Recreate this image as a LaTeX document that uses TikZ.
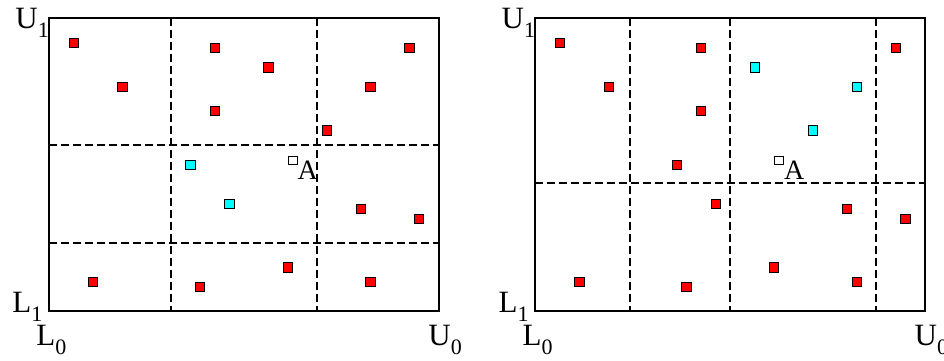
\documentclass[tikz,border=0pt]{standalone}
\usepackage{fontspec}
\setmainfont{Liberation Serif}
\usetikzlibrary{positioning}
\definecolor{ptred}{RGB}{255,0,0}
\definecolor{ptcyan}{RGB}{0,255,255}
\tikzset{
	samplept/.style={rectangle, draw=black, line width=0.4pt, minimum size=4.6pt, inner sep=0pt},
	querypt/.style={samplept, fill=white, minimum size=4.2pt},
	frame/.style={line width=1.1pt},
	cutline/.style={line width=1.1pt, dash pattern=on 4pt off 2pt},
	cornerlbl/.style={font=\fontsize{15.5}{18}\selectfont, inner sep=0pt, anchor=base west},
	querylbl/.style={font=\fontsize{14}{16}\selectfont, inner sep=0pt, anchor=north west}
}
\newcommand{\bndlabel}[2]{#1\raisebox{-4.8pt}{\fontsize{11}{12}\selectfont #2}}
% x/y/colour left/colour right
\newcommand{\ptlist}{73.7/43/ptred/ptred, 122.3/86.7/ptred/ptred, 214.7/47.7/ptred/ptred,
	268.3/67.3/ptred/ptcyan, 214.7/111/ptred/ptred, 409.3/47.7/ptred/ptred,
	370.3/86.7/ptred/ptcyan, 326.7/130.3/ptred/ptcyan, 190.3/164.7/ptcyan/ptred,
	229.3/204/ptcyan/ptred, 360.7/209/ptred/ptred, 419/218.7/ptred/ptred,
	93/282/ptred/ptred, 200/286.7/ptred/ptred, 287.7/267.3/ptred/ptred, 370.3/282/ptred/ptred}
\begin{document}
\begin{tikzpicture}[x=0.5pt, y=-0.5pt]
	\useasboundingbox (0,0) rectangle (944,360);
	% left panel: 3 x 3 cells
	\begin{scope}
		\draw[frame] (49,18.3) rectangle (438.7,311);
		\foreach \gx in {170.7, 316.7} \draw[cutline] (\gx,18.3) -- (\gx,311);
		\foreach \gy in {145.3, 242.7} \draw[cutline] (49,\gy) -- (438.7,\gy);
		\foreach \px/\py/\cl/\cr [count=\i] in \ptlist
			\node[samplept, fill=\cl] (pl\i) at (\px,\py) {};
		\node[querypt] (qla) at (292.7,160.3) {};
		\node[querylbl] (lla) at (qla.east) {A};
		\node[cornerlbl] (lu1) at (15,28) {\bndlabel{U}{1}};
		\node[cornerlbl] (ll1) at (12,312) {\bndlabel{L}{1}};
		\node[cornerlbl] (ll0) at (36,345) {\bndlabel{L}{0}};
		\node[cornerlbl] (lu0) at (428,345) {\bndlabel{U}{0}};
	\end{scope}
	% right panel: 4 x 2 cells
	\begin{scope}[shift={(486.3,0)}]
		\draw[frame] (49,18.3) rectangle (438.7,311);
		\foreach \gx in {143.4, 243.7, 389.7} \draw[cutline] (\gx,18.3) -- (\gx,311);
		\draw[cutline] (49,182.7) -- (438.7,182.7);
		\foreach \px/\py/\cl/\cr [count=\i] in \ptlist
			\node[samplept, fill=\cr] (pr\i) at (\px,\py) {};
		\node[querypt] (qra) at (292.7,160.3) {};
		\node[querylbl] (lra) at (qra.east) {A};
		\node[cornerlbl] (ru1) at (15,28) {\bndlabel{U}{1}};
		\node[cornerlbl] (rl1) at (12,312) {\bndlabel{L}{1}};
		\node[cornerlbl] (rl0) at (36,345) {\bndlabel{L}{0}};
		\node[cornerlbl] (ru0) at (428,345) {\bndlabel{U}{0}};
	\end{scope}
\end{tikzpicture}
\end{document}
